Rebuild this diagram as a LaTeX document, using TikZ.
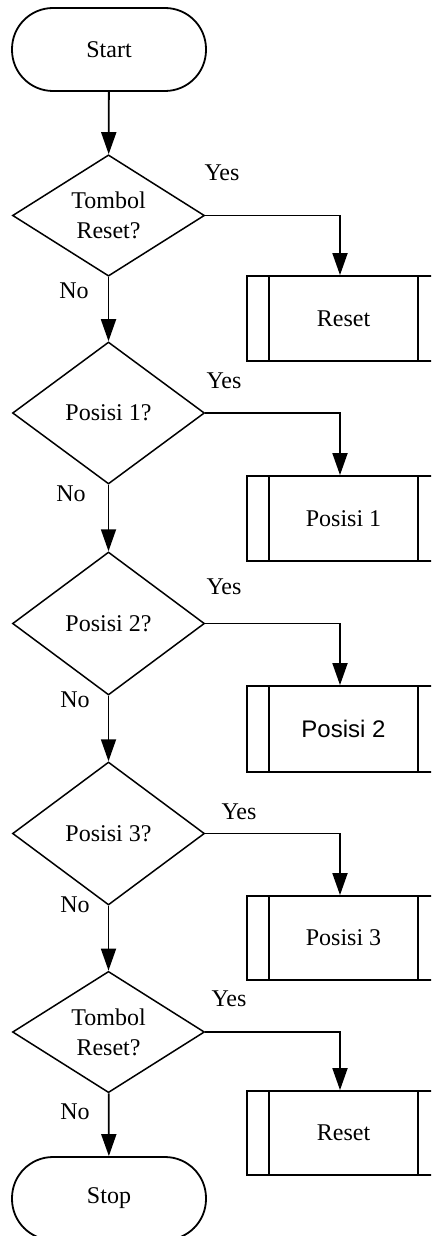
\documentclass[tikz,border=0pt]{standalone}
\usepackage{fontspec}
\setmainfont{Liberation Serif}
\newfontfamily\sansfont{Liberation Sans}
\usetikzlibrary{shapes.geometric,arrows.meta}
\begin{document}
\begin{tikzpicture}[x=1pt,y=-1pt,
  every node/.style={font=\fontsize{24}{30}\selectfont},
  arr/.style={line width=1.8pt,-{Triangle[width=15pt,length=22pt]}},
  term/.style={draw,line width=1.8pt,rounded corners=41pt,minimum width=194pt,minimum height=83pt,inner sep=0pt},
  dec/.style={draw,diamond,line width=1.5pt,minimum width=192pt,inner sep=0pt,align=center},
  proc/.style={draw,line width=1.8pt,minimum width=193pt,inner sep=0pt},
  bar/.style={line width=1.8pt},
  lbl/.style={inner sep=0pt}]
\useasboundingbox (0,0) rectangle (431,1236);
\clip (0,0) rectangle (431,1236);

\node[term] (start) at (109,49.5) {Start};
\node[dec,minimum height=121pt] (d1) at (108.5,215.5) {Tombol\\Reset?};
\node[dec,minimum height=142pt] (d2) at (108.5,413) {Posisi 1?};
\node[dec,minimum height=143pt] (d3) at (108.5,623.5) {Posisi 2?};
\node[dec,minimum height=143pt] (d4) at (108.5,833.5) {Posisi 3?};
\node[dec,minimum height=120pt] (d5) at (108.5,1032) {Tombol\\Reset?};
\node[term] (stop) at (109,1198.5) {Stop};

\node[proc,minimum height=85pt] (b1) at (343.5,318.5) {Reset};
\node[proc,minimum height=85pt] (b2) at (343.5,518.5) {Posisi 1};
\node[proc,minimum height=86pt,font=\sansfont\fontsize{24}{30}\selectfont] (b3) at (343.5,729) {Posisi 2};
\node[proc,minimum height=84pt] (b4) at (343.5,938) {Posisi 3};
\node[proc,minimum height=84pt] (b5) at (343.5,1133) {Reset};

\foreach \b in {b1,b2,b3,b4,b5}{
  \draw[bar] ([xshift=23pt]\b.north west) -- ([xshift=23pt]\b.south west);
  \draw[bar] ([xshift=-23pt]\b.north east) -- ([xshift=-23pt]\b.south east);
}

\draw[arr] (start) -- (d1);
\draw[arr] (d1) -- (d2);
\draw[arr] (d2) -- (d3);
\draw[arr] (d3) -- (d4);
\draw[arr] (d4) -- (d5);
\draw[arr] (d5) -- (stop);

\draw[arr] (d1.east) -| ([xshift=-3.5pt]b1.north);
\draw[arr] (d2.east) -| ([xshift=-3.5pt]b2.north);
\draw[arr] (d3.east) -| ([xshift=-3.5pt]b3.north);
\draw[arr] (d4.east) -| ([xshift=-3.5pt]b4.north);
\draw[arr] (d5.east) -| ([xshift=-3.5pt]b5.north);

\node[lbl] (y1) at (222,173) {Yes};
\node[lbl] (y2) at (224,381) {Yes};
\node[lbl] (y3) at (224,587) {Yes};
\node[lbl] (y4) at (239,812) {Yes};
\node[lbl] (y5) at (229,999) {Yes};
\node[lbl] (n1) at (74,291) {No};
\node[lbl] (n2) at (71,494) {No};
\node[lbl] (n3) at (75,700) {No};
\node[lbl] (n4) at (75,905) {No};
\node[lbl] (n5) at (75,1112) {No};
\end{tikzpicture}
\end{document}
